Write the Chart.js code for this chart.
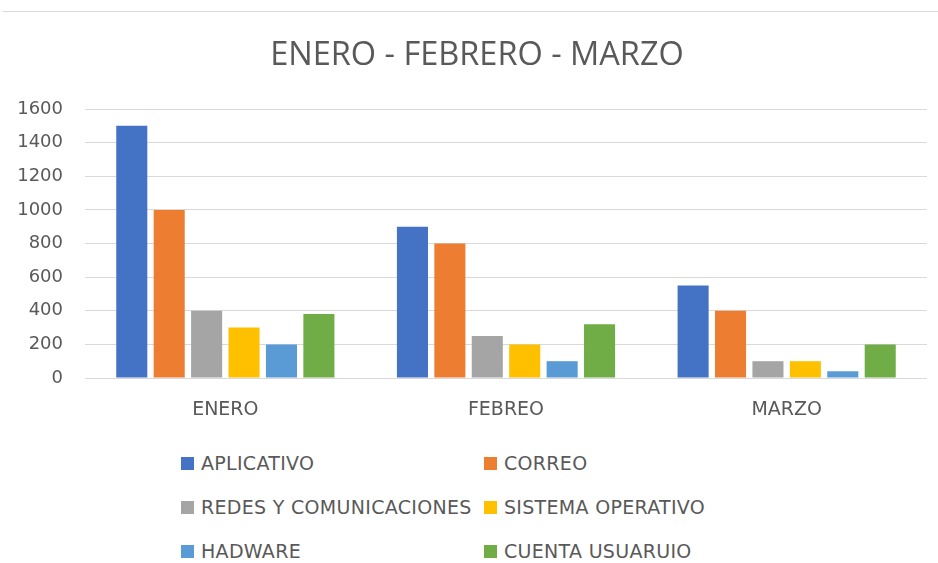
<!DOCTYPE html>
<html>
<head>
<meta charset="utf-8">
<script src="https://cdn.jsdelivr.net/npm/chart.js@4"></script>
<style>
  html, body { margin: 0; padding: 0; background: #fff; }
  #wrap { position: relative; width: 938px; height: 563px; overflow: hidden; }
  #topline { position: absolute; left: 3px; top: 11px; width: 935px; height: 1px; background: #d9d9d9; }
  #titulo { position: absolute; left: 0; top: 33px; width: 954px; text-align: center;
            font-family: "Open Sans", sans-serif; font-size: 32.5px; line-height: 40px; color: #595959; }
  #chart-box { position: absolute; left: 0; top: 0; width: 938px; height: 428px; }
  #legend { position: absolute; left: 181px; top: 452px; width: 560px; }
  .item { position: absolute; display: flex; align-items: center; white-space: nowrap;
          font-family: "DejaVu Sans", sans-serif; font-size: 19px; letter-spacing: 0.3px; color: #595959; }
  .item span.box { width: 13px; height: 13px; margin-right: 7px; display: inline-block; }
</style>
</head>
<body>
<div id="wrap">
  <div id="topline"></div>
  <div id="chart-box"><canvas id="grafico"></canvas></div>
  <div id="titulo">ENERO - FEBRERO - MARZO</div>
  <div id="legend"></div>
</div>
<script>
var meses = ['ENERO', 'FEBREO', 'MARZO'];

var aplicativo = [1500, 900, 550];
var correo = [1000, 800, 400];
var redes = [400, 250, 100];
var sistema = [300, 200, 100];
var hadware = [200, 100, 40];
var cuenta = [380, 320, 200];

var series = [
    { label: 'APLICATIVO', data: aplicativo, color: '#4472C4' },
    { label: 'CORREO', data: correo, color: '#ED7D31' },
    { label: 'REDES Y COMUNICACIONES', data: redes, color: '#A5A5A5' },
    { label: 'SISTEMA OPERATIVO', data: sistema, color: '#FFC000' },
    { label: 'HADWARE', data: hadware, color: '#5B9BD5' },
    { label: 'CUENTA USUARUIO', data: cuenta, color: '#70AD47' }
];

var ctx = document.getElementById('grafico').getContext('2d');
var chart = new Chart(ctx, {
    type: 'bar',
    data: {
        labels: meses,
        datasets: series.map(s => ({
            label: s.label,
            data: s.data,
            backgroundColor: s.color,
            borderWidth: 0,
            barPercentage: 0.83,
            categoryPercentage: 0.8
        }))
    },
    options: {
        responsive: true,
        maintainAspectRatio: false,
        animation: false,
        layout: { padding: { left: 0, right: 11, top: 109, bottom: 0 } },
        plugins: {
            legend: { display: false },
            tooltip: { enabled: false },
            title: { display: false }
        },
        scales: {
            x: {
                grid: { display: false, drawTicks: false },
                border: { display: false },
                ticks: {
                    color: '#595959',
                    padding: 21,
                    font: { family: 'DejaVu Sans', size: 19 }
                },
                afterFit: function (scale) { scale.height = 50; }
            },
            y: {
                min: 0,
                max: 1600,
                grid: { color: '#d9d9d9', lineWidth: 1, drawTicks: false },
                border: { display: false },
                ticks: {
                    stepSize: 200,
                    color: '#595959',
                    padding: 22,
                    font: { family: 'DejaVu Sans', size: 18 },
                    callback: function (value) { return String(value); }
                },
                afterFit: function (scale) { scale.width = 85; }
            }
        }
    }
});

// leyenda en dos columnas como en Excel
var legend = document.getElementById('legend');
chart.data.datasets.forEach(function (ds, i) {
    var item = document.createElement('div');
    item.className = 'item';
    item.style.left = (i % 2 === 0 ? 0 : 303) + 'px';
    item.style.top = (Math.floor(i / 2) * 44) + 'px';
    item.innerHTML = '<span class="box" style="background:' + ds.backgroundColor + '"></span>' + ds.label;
    legend.appendChild(item);
});
</script>
</body>
</html>
